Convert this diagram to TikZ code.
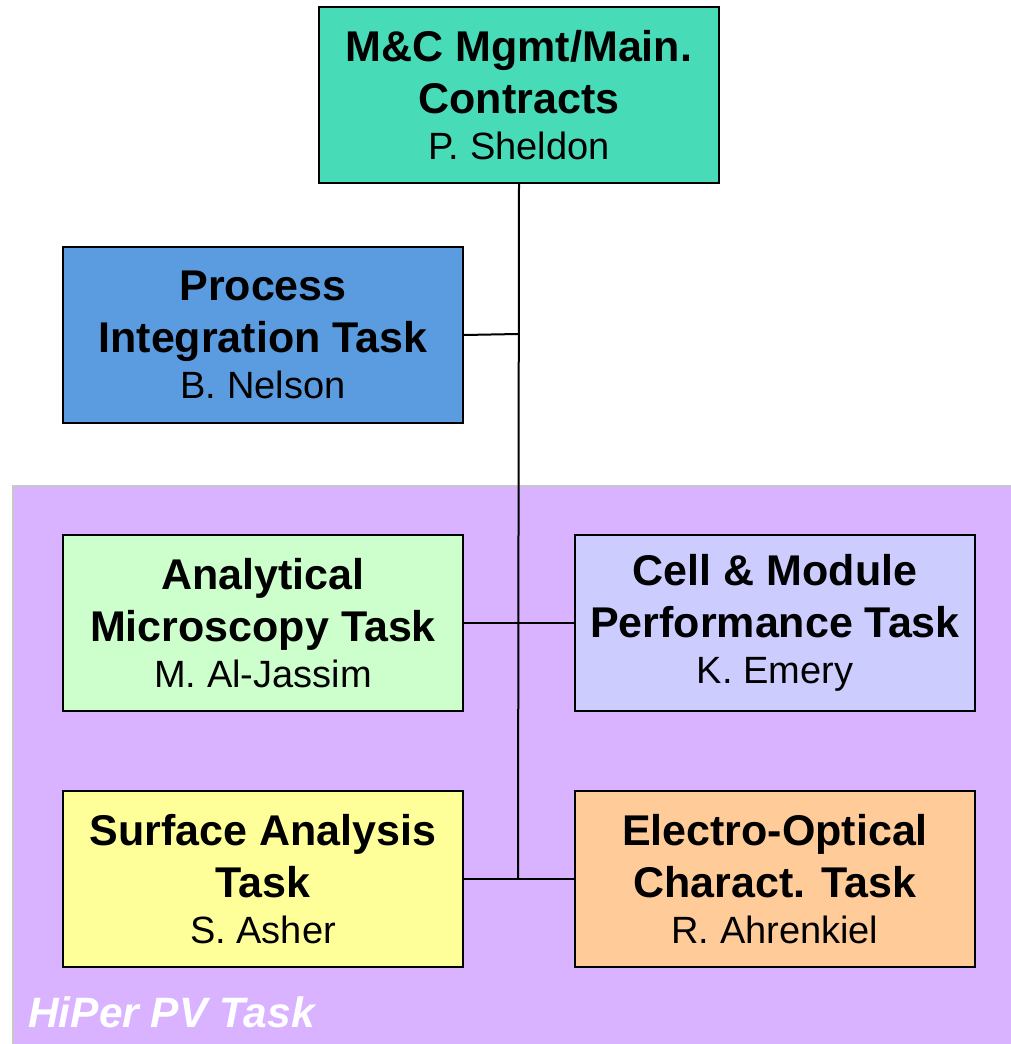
\documentclass[tikz,border=0pt]{standalone}
\usepackage{fontspec}
\setmainfont{Liberation Sans}
\definecolor{mgmtgreen}{HTML}{48DBB8}
\definecolor{procblue}{HTML}{5B9BDF}
\definecolor{hiperpurple}{HTML}{D9B3FF}
\definecolor{microgreen}{HTML}{CCFFCC}
\definecolor{cellblue}{HTML}{CCCCFF}
\definecolor{surfyellow}{HTML}{FFFF99}
\definecolor{electroorange}{HTML}{FFCC99}
\definecolor{edgegray}{HTML}{C8C8C8}
\newcommand{\leadname}{\fontsize{38}{45}\selectfont\mdseries}
\begin{document}
\begin{tikzpicture}[x=1pt,y=-1pt,
  taskbox/.style={draw=black,line width=2pt,minimum width=400pt,minimum height=176pt,
    inner sep=0pt,align=center,anchor=north west,font=\fontsize{43}{52}\selectfont\bfseries},
  link/.style={draw=black,line width=2pt}]
\useasboundingbox (0,0) rectangle (1011,1044);
\fill[white] (0,0) rectangle (1011,1044);
% HiPer PV task region
\fill[hiperpurple] (13,486) rectangle (1011,1044);
\draw[edgegray,line width=2pt] (13,1044) -- (13,486) -- (1011,486);
\node[anchor=base west,text=white,inner sep=0pt,font=\fontsize{42.5}{50}\selectfont\bfseries\itshape] (hiper) at (28,1027) {HiPer PV Task};
% org chart
\coordinate (j1) at (518,334);
\coordinate (j3) at (518,878);
\node[taskbox,fill=mgmtgreen] (mgmt) at (318,6) {M\&C Mgmt/Main.\\Contracts\\[-6pt]\leadname P. Sheldon};
\draw[link] (mgmt.south) -- (j3);
\node[taskbox,fill=procblue] (proc) at (62,246) {Process\\Integration Task\\[-6pt]\leadname B. Nelson};
\node[taskbox,fill=microgreen] (micro) at (62,534) {Analytical\\Microscopy Task\\[-6pt]\leadname M. Al-Jassim};
\node[taskbox,fill=cellblue] (cell) at (574,534) {Cell \& Module\\Performance Task\\[-6pt]\leadname K. Emery};
\node[taskbox,fill=surfyellow] (surf) at (62,790) {Surface Analysis\\Task\\[-6pt]\leadname S. Asher};
\node[taskbox,fill=electroorange] (electro) at (574,790) {Electro-Optical\\Charact. Task\\[-6pt]\leadname R. Ahrenkiel};
\draw[link] (proc.east) -- (j1);
\draw[link] (micro.east) -- (cell.west);
\draw[link] (surf.east) -- (electro.west);
\end{tikzpicture}
\end{document}
